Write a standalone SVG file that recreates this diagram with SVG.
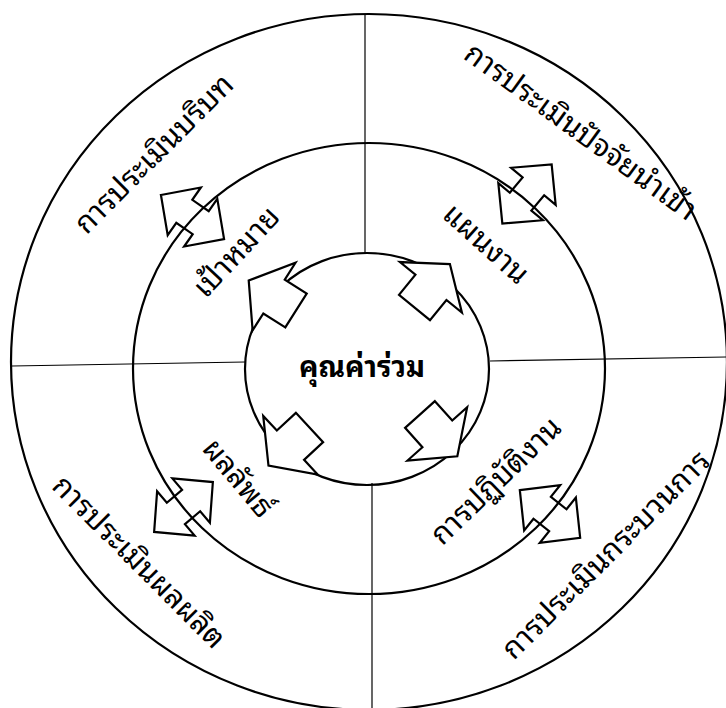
<svg xmlns="http://www.w3.org/2000/svg" xmlns:xlink="http://www.w3.org/1999/xlink" width="726" height="708" viewBox="0 0 726 708">
<style>
.ring{fill:none;stroke:#000;stroke-width:2.2}
.div{stroke:#000;stroke-width:1.2;fill:none}
.arr{fill:#fff;stroke:#000;stroke-width:2.2;stroke-linejoin:miter}
.lbl{font-family:"Noto Sans Thai Looped","Loma","Garuda","Tahoma","Noto Sans Thai","DejaVu Sans","Noto Sans",sans-serif;font-size:30px;fill:#000;text-anchor:middle}
.ctr{font-family:"Noto Sans Thai Looped","Loma","Garuda","Tahoma","Noto Sans Thai","DejaVu Sans","Noto Sans",sans-serif;font-size:29px;font-weight:bold;fill:#000;text-anchor:middle}
</style>
<defs>
<path id="dbl" d="M-38.5,0 L-10,-29 L-10,-14 L10,-14 L10,-29 L38.5,0 L10,29 L10,14 L-10,14 L-10,29 Z"/>
<path id="sgl" d="M0,-20 L26,-20 L26,-40 L56,0 L26,40 L26,20 L0,20 Z"/>
</defs>
<rect width="726" height="708" fill="#fff"/>
<g id="connectors">
<line class="div" x1="365" y1="14" x2="365" y2="253"/>
<line class="div" x1="12" y1="366" x2="245" y2="362"/>
<line class="div" x1="490" y1="361" x2="726" y2="357"/>
<line class="div" x1="372" y1="483" x2="372" y2="708"/>
</g>
<g id="outer-ring">
<ellipse class="ring" cx="369" cy="362" rx="358" ry="348"/>
</g>
<g id="outer-arrows">
<use xlink:href="#dbl" class="arr" transform="translate(192.5,217) rotate(34.9)"/>
<use xlink:href="#dbl" class="arr" transform="translate(527,194) rotate(-50.2)"/>
<use xlink:href="#dbl" class="arr" transform="translate(183.5,507) rotate(-40.3)"/>
<use xlink:href="#dbl" class="arr" transform="translate(550,514) rotate(38.4)"/>
</g>
<g id="middle-ring">
<ellipse class="ring" cx="369" cy="368.5" rx="236" ry="225.5"/>
</g>
<g id="inner-ring">
<ellipse class="ring" cx="367" cy="369" rx="122" ry="116"/>
</g>
<g id="inner-arrows">
<use xlink:href="#sgl" class="arr" transform="translate(414.5,307.5) rotate(-50.8)"/>
<use xlink:href="#sgl" class="arr" transform="translate(296,310.5) rotate(-147.6)"/>
<use xlink:href="#sgl" class="arr" transform="translate(309.5,427.5) rotate(137.1)"/>
<use xlink:href="#sgl" class="arr" transform="translate(420,414.5) rotate(48.2)"/>
</g>
<g id="center">
<text class="ctr" x="362" y="377">คุณค่าร่วม</text>
</g>
<g id="context">
<text class="lbl" x="0" y="7" transform="translate(156,156) rotate(-45)">การประเมินบริบท</text>
</g>
<g id="input">
<text class="lbl" x="0" y="7" transform="translate(579,134) rotate(36)">การประเมินปัจจัยนำเข้า</text>
</g>
<g id="process">
<text class="lbl" x="0" y="7" transform="translate(608,557) rotate(-45)">การประเมินกระบวนการ</text>
</g>
<g id="product">
<text class="lbl" x="0" y="7" transform="translate(137,564) rotate(45)">การประเมินผลผลิต</text>
</g>
<g id="goal">
<text class="lbl" x="0" y="7" transform="translate(238.5,254) rotate(-47)">เป้าหมาย</text>
</g>
<g id="plan">
<text class="lbl" x="0" y="7" transform="translate(484,246) rotate(42)">แผนงาน</text>
</g>
<g id="action">
<text class="lbl" x="0" y="7" transform="translate(498,483) rotate(-44)">การปฏิบัติงาน</text>
</g>
<g id="outcome">
<text class="lbl" x="0" y="7" transform="translate(236,480) rotate(50)">ผลลัพธ์</text>
</g>
</svg>
